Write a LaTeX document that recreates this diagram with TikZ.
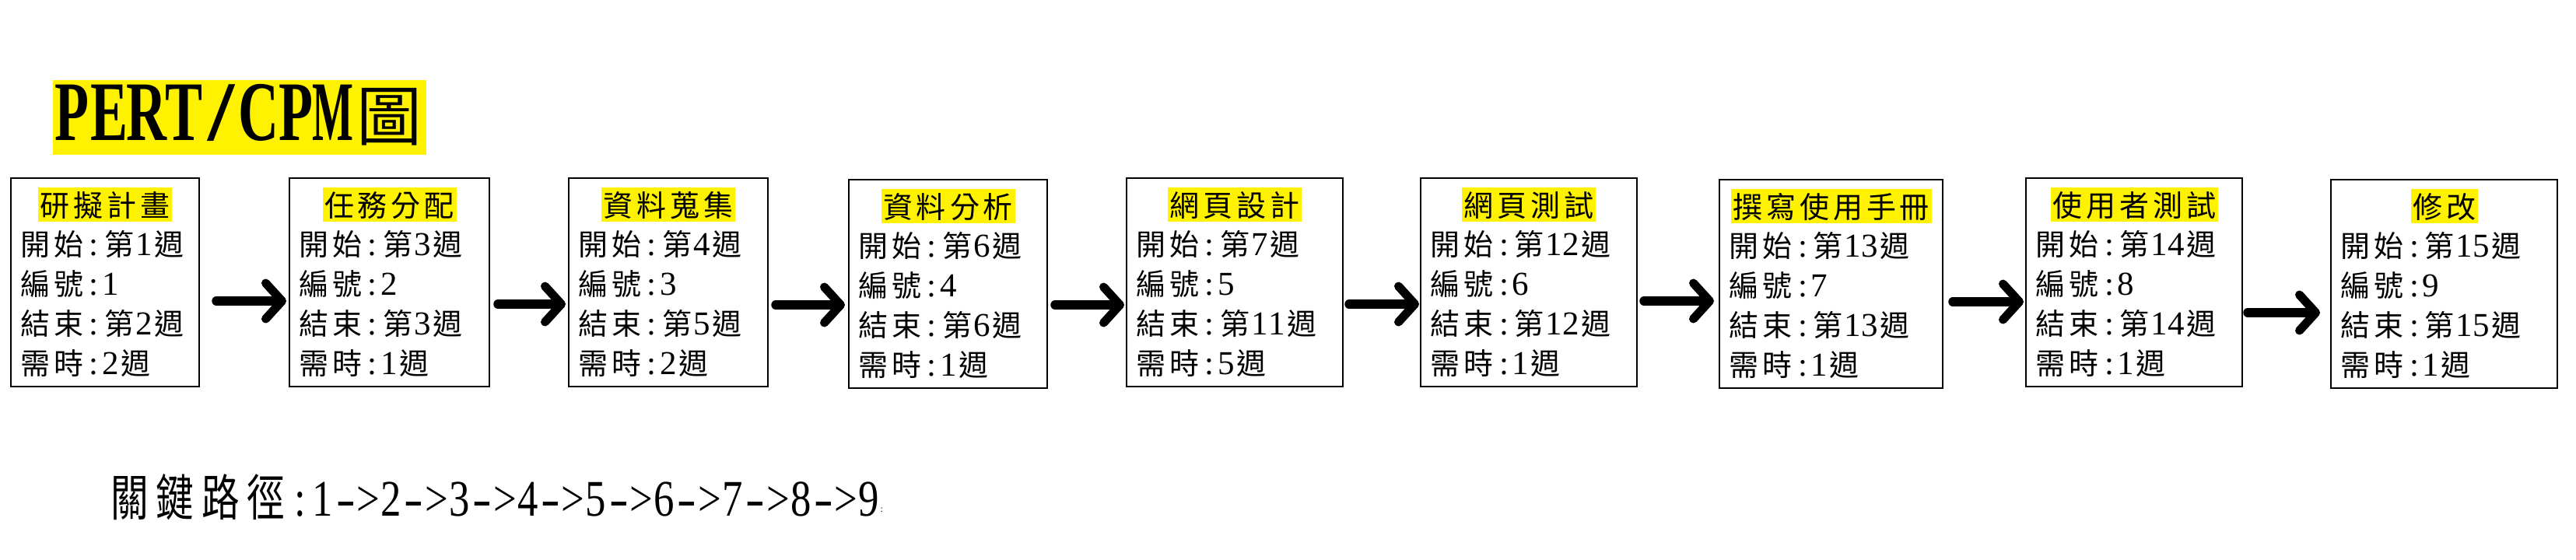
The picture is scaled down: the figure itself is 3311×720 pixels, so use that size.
\documentclass[tikz,border=0pt]{standalone}
\usepackage{fontspec}
\usepackage{graphicx}
\usetikzlibrary{arrows.meta}
\newfontfamily\notocjk{Noto Sans CJK TC}
\newfontfamily\notocjkn[FakeStretch=0.76]{Noto Sans CJK TC}
\newfontfamily\libser{Liberation Serif}
\newfontfamily\libsern[FakeStretch=0.8]{Liberation Serif}
\newfontfamily\libsert[FakeStretch=0.66]{Liberation Serif Bold}
\newdimen\cw \newdimen\hw
\def\cjkf{\notocjk\fontsize{38}{38}\selectfont}
\def\latf{\libser\fontsize{43}{43}\selectfont}
\cw=43pt \hw=21.5pt
\def\Tl#1{\ifx#1\relax\else\ifnum`#1>255 \hbox to\cw{\hss\cjkf#1\hss}\else\hbox to\hw{\hss\latf\ifx#1-\scalebox{1.4}[1]{-}\else#1\fi\hss}\fi\expandafter\Tl\fi}
\newcommand\T[1]{\Tl#1\relax}
\tikzset{
 box/.style={draw, line width=1.5pt, minimum height=268pt, inner sep=0pt, outer sep=0pt},
 ttl/.style={fill=yellow, inner sep=0pt, text height=37pt, text depth=7pt},
 ln/.style={inner sep=0pt},
 arr/.style={line width=11.5pt, line cap=round, -{Straight Barb[length=21pt,width=46pt,line width=11pt,line cap=round,line join=round]}}
}
\newcommand\pertbox[9]{%
 \node[box, minimum width=#4pt, anchor=north west] (#1) at (#2,#3) {};
 \node[ttl, anchor=base] (#1t) at ([yshift=-49pt]#1.north) {\T{#5}};
 \node[ln, anchor=base west] (#1a) at ([xshift=10pt,yshift=-99pt]#1.north west) {\T{#6}};
 \node[ln, anchor=base west] (#1b) at ([xshift=10pt,yshift=-150pt]#1.north west) {\T{#7}};
 \node[ln, anchor=base west] (#1c) at ([xshift=10pt,yshift=-201pt]#1.north west) {\T{#8}};
 \node[ln, anchor=base west] (#1d) at ([xshift=10pt,yshift=-252pt]#1.north west) {\T{#9}};
}
\begin{document}
\begin{tikzpicture}[x=1pt,y=-1pt]
\fill[white] (0,0) rectangle (3311,720);
\useasboundingbox (0,0) rectangle (3311,720);
\node[anchor=base west, fill=yellow, inner sep=0pt, text height=77pt, text depth=19pt] (title) at (68,180)
 {\def\cjkf{\notocjk\fontsize{84}{84}\selectfont}\def\latf{\libsert\fontsize{109}{109}\selectfont}\cw=96pt\hw=48pt\T{PERT}\hbox to\hw{\hss\latf\scalebox{1.7}[1]{/}\hss}\T{CP}\hbox to\hw{\hss\latf\scalebox{0.78}[1]{M}\hss}\T{圖}};
\pertbox{b1}{14}{229}{242}{研擬計畫}{開始:第1週}{編號:1}{結束:第2週}{需時:2週}
\pertbox{b2}{372}{229}{257}{任務分配}{開始:第3週}{編號:2}{結束:第3週}{需時:1週}
\pertbox{b3}{731}{229}{256}{資料蒐集}{開始:第4週}{編號:3}{結束:第5週}{需時:2週}
\pertbox{b4}{1091}{231}{255}{資料分析}{開始:第6週}{編號:4}{結束:第6週}{需時:1週}
\pertbox{b5}{1448}{229}{278}{網頁設計}{開始:第7週}{編號:5}{結束:第11週}{需時:5週}
\pertbox{b6}{1826}{229}{278}{網頁測試}{開始:第12週}{編號:6}{結束:第12週}{需時:1週}
\pertbox{b7}{2210}{231}{287}{撰寫使用手冊}{開始:第13週}{編號:7}{結束:第13週}{需時:1週}
\pertbox{b8}{2604}{229}{278}{使用者測試}{開始:第14週}{編號:8}{結束:第14週}{需時:1週}
\pertbox{b9}{2996}{231}{291}{修改}{開始:第15週}{編號:9}{結束:第15週}{需時:1週}
\draw[arr] ([xshift=22pt,yshift=-24pt]b1.east) -- ([xshift=-4pt,yshift=-24pt]b2.west);
\draw[arr] ([xshift=11pt,yshift=-28pt]b2.east) -- ([xshift=-4pt,yshift=-28pt]b3.west);
\draw[arr] ([xshift=10pt,yshift=-29pt]b3.east) -- ([xshift=-5pt,yshift=-27pt]b4.west);
\draw[arr] ([xshift=10pt,yshift=-27pt]b4.east) -- ([xshift=-3pt,yshift=-29pt]b5.west);
\draw[arr] ([xshift=8pt,yshift=-28pt]b5.east) -- ([xshift=-2pt,yshift=-28pt]b6.west);
\draw[arr] ([xshift=9pt,yshift=-24pt]b6.east) -- ([xshift=-7pt,yshift=-22pt]b7.west);
\draw[arr] ([xshift=13pt,yshift=-23pt]b7.east) -- ([xshift=-3pt,yshift=-25pt]b8.west);
\draw[arr] ([xshift=7pt,yshift=-39pt]b8.east) -- ([xshift=-14pt,yshift=-37pt]b9.west);
\node[anchor=base west, inner sep=0pt] (crit) at (137,663)
 {\def\cjkf{\notocjkn\fontsize{64}{64}\selectfont}\def\latf{\libsern\fontsize{66}{66}\selectfont}\cw=58.5pt\hw=29.25pt\T{關鍵路徑:1->2->3->4->5->6->7->8->9}\raisebox{5pt}{\libser\fontsize{12}{12}\selectfont:}};
\end{tikzpicture}
\end{document}
